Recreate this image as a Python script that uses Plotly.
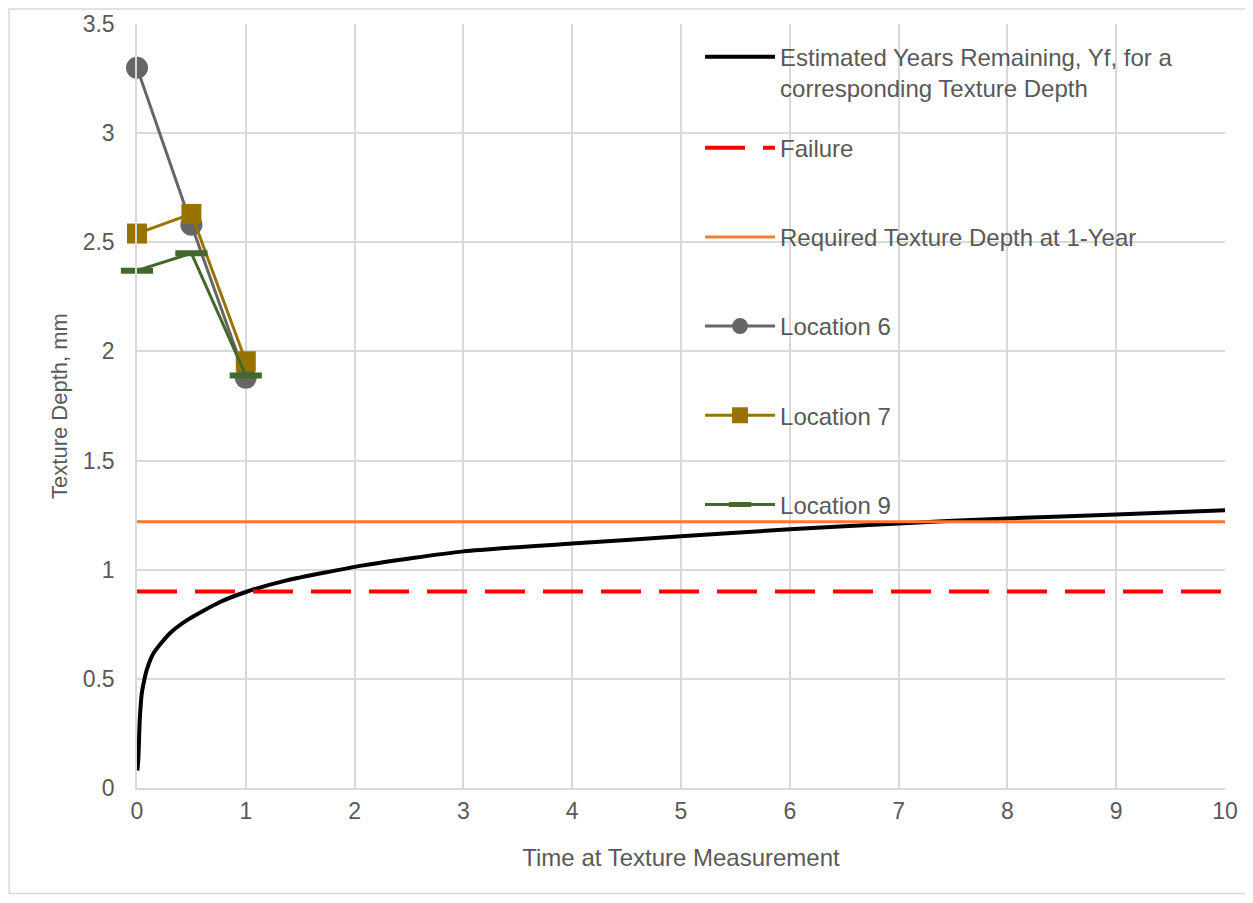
import plotly.graph_objects as go

# Estimated curve
curve_x = [0.003, 0.012, 0.025, 0.043, 0.065, 0.089, 0.15, 0.30, 0.457, 0.763, 1.0, 1.376, 2.08, 3, 4, 5, 6, 7, 8, 9, 10]
curve_y = [0.08, 0.13, 0.31, 0.43, 0.49, 0.54, 0.616, 0.708, 0.768, 0.852, 0.898, 0.951, 1.02, 1.084, 1.12, 1.153, 1.185, 1.212, 1.235, 1.253, 1.272]

line_x = [0, 10]
failure_y = [0.9, 0.9]
required_y = [1.22, 1.22]

loc_x = [0, 0.5, 1]
loc6_y = [3.30, 2.58, 1.88]
loc7_y = [2.54, 2.63, 1.955]
loc9_y = [2.37, 2.45, 1.89]

FONT = "Liberation Sans, Arial, sans-serif"
GREY = "#595959"

fig = go.Figure()
fig.add_trace(go.Scatter(x=curve_x, y=curve_y, mode="lines", line=dict(color="black", width=4, shape="spline", smoothing=0.6),
                         name="Estimated Years Remaining, Yf, for a<br>corresponding Texture Depth",
                         legend="legend", showlegend=True))
fig.add_trace(go.Scatter(x=line_x, y=failure_y, mode="lines", line=dict(color="#FF0000", width=4, dash="40px,18px"),
                         name="Failure", legendgroup="b", legend="legend2"))
fig.add_trace(go.Scatter(x=line_x, y=required_y, mode="lines", line=dict(color="#ED7D31", width=3),
                         name="Required Texture Depth at 1-Year", legendgroup="c", legend="legend2"))
fig.add_trace(go.Scatter(x=loc_x, y=loc6_y, mode="lines+markers", line=dict(color="#666666", width=3),
                         marker=dict(symbol="circle", size=22, color="#666666"), cliponaxis=False,
                         name="Location 6", legendgroup="d", legend="legend2"))
fig.add_trace(go.Scatter(x=loc_x, y=loc7_y, mode="lines+markers", line=dict(color="#997300", width=3),
                         marker=dict(symbol="square", size=20, color="#997300"), cliponaxis=False,
                         name="Location 7", legendgroup="e", legend="legend2"))
fig.add_trace(go.Scatter(x=loc_x, y=loc9_y, mode="lines+markers", line=dict(color="#43682B", width=3),
                         marker=dict(symbol="line-ew", size=23, line=dict(color="#43682B", width=6)), cliponaxis=False,
                         name="Location 9", legendgroup="f", legend="legend2"))

legend_common = dict(xanchor="left", yanchor="top", bgcolor="rgba(0,0,0,0)",
                     font=dict(family=FONT, size=24, color=GREY), itemwidth=70, visible=True)

fig.update_layout(
    width=1245, height=887,
    showlegend=True,
    margin=dict(l=129, r=28, t=16, b=107, autoexpand=False),
    paper_bgcolor="white", plot_bgcolor="white",
    font=dict(family=FONT, color=GREY, size=22),
    legend=dict(x=0.5175, y=0.986, valign="top", **legend_common),
    legend2=dict(x=0.5175, y=0.867, tracegroupgap=55, traceorder="grouped", **legend_common),
    xaxis=dict(range=[0, 10], dtick=1, showgrid=True, gridcolor="#D9D9D9", gridwidth=1.5,
               zeroline=False, showline=True, linecolor="#D9D9D9", linewidth=1.5, automargin=False,
               ticks="", tickfont=dict(size=23, color=GREY), ticklabelstandoff=2,
               title=dict(text="Time at Texture Measurement", font=dict(size=24, color=GREY), standoff=26)),
    yaxis=dict(range=[0, 3.5], dtick=0.5, showgrid=True, gridcolor="#D9D9D9", gridwidth=1.5,
               zeroline=False, showline=True, linecolor="#D9D9D9", linewidth=1.5, automargin=False,
               ticks="", tickfont=dict(size=23, color=GREY), ticklabelstandoff=16,
               title=dict(text="Texture Depth, mm", font=dict(size=22, color=GREY), standoff=9)),
    shapes=[dict(type="rect", xref="paper", yref="paper", x0=-0.1176, x1=1.0202, y0=-0.138, y1=1.0196,
                 line=dict(color="#D9D9D9", width=1.5), fillcolor="rgba(0,0,0,0)", layer="below")],
)

fig.write_html("out.html")
